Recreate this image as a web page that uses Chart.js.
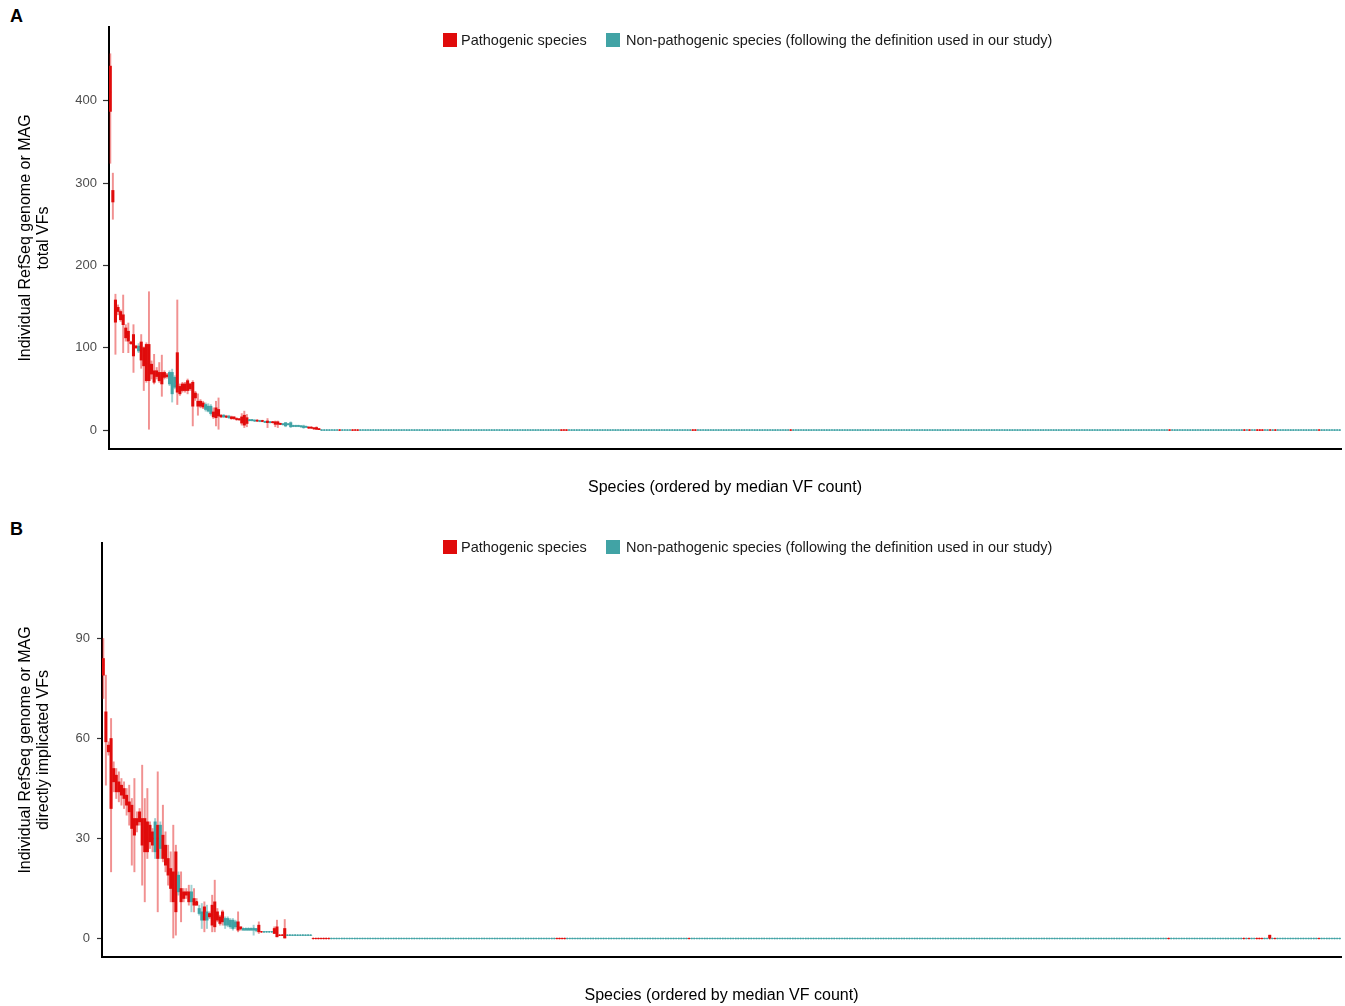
<!DOCTYPE html>
<html>
<head>
<meta charset="utf-8">
<script src="https://cdn.jsdelivr.net/npm/chart.js@4.4.1/dist/chart.umd.min.js"></script>
<style>
  html, body { margin: 0; padding: 0; background: #fff; }
  body { width: 1345px; height: 1006px; position: relative; overflow: hidden;
         font-family: "Liberation Sans", Arial, sans-serif; }
  canvas { position: absolute; left: 0; }
  .tag { position: absolute; left: 10px; font-weight: bold; font-size: 18px; line-height: 18px; color: #000; }
  .sw { position: absolute; width: 14px; height: 14px; }
  .lt { position: absolute; font-size: 14.5px; line-height: 16px; color: #1a1a1a; white-space: nowrap; }
</style>
</head>
<body>
<div class="tag" style="top:7px">A</div>
<div class="tag" style="top:520px">B</div>

<canvas id="chartA" width="1345" height="505" style="top:0px"></canvas>
<canvas id="chartB" width="1345" height="501" style="top:505px"></canvas>

<div class="sw" style="left:443px; top:33px; background:#e00b0b"></div>
<div class="lt" style="left:461px; top:32px">Pathogenic species</div>
<div class="sw" style="left:606px; top:33px; background:#41a3a5"></div>
<div class="lt" style="left:626px; top:32px">Non-pathogenic species (following the definition used in our study)</div>

<div class="sw" style="left:443px; top:540px; background:#e00b0b"></div>
<div class="lt" style="left:461px; top:539px">Pathogenic species</div>
<div class="sw" style="left:606px; top:540px; background:#41a3a5"></div>
<div class="lt" style="left:626px; top:539px">Non-pathogenic species (following the definition used in our study)</div>

<script>
// ---------- data ----------
// Each row: [class, min, q1, median, q3, max]; P = pathogenic, N = non-pathogenic.
// Species are ordered by median VF count; every species after the listed rows
// has zero VFs in all of its genomes.

const speciesCountA = 478;
const boxesA = [
  ['P',324,387,410,442,457], ['P',256,277,284,291,312], ['P',92,131,146,158,165],
  ['P',140,144,147,149,152], ['P',132,134,140,144,146], ['P',94,128,134,140,164],
  ['P',108,112,118,124,128], ['P',94,108,114,120,130], ['P',104,105,106,107,108],
  ['P',70,90,104,116,128],   ['P',99,100,101,102,103],  ['N',94,96,99,102,105],
  ['P',75,85,96,107,116],    ['P',48,78,90,100,101],    ['P',58,60,82,104,106],
  ['P',1,60,78,104,168],     ['P',62,68,74,80,84],      ['P',56,58,68,72,92],
  ['P',62,65,68,72,76],      ['P',58,60,66,70,82],      ['P',41,56,62,70,91],
  ['P',62,64,66,70,72],      ['P',63,65,66,67,69],      ['N',54,56,62,70,72],
  ['N',34,44,56,70,74],      ['N',50,52,56,64,66],      ['P',31,46,58,94,158],
  ['P',42,44,50,53,56],      ['P',46,48,52,56,58],      ['P',46,48,52,56,58],
  ['P',44,48,54,60,62],      ['P',48,50,52,56,57],      ['P',5,29,40,58,60],
  ['P',36,39,42,45,47],      ['P',18,29,32,35,44],      ['P',27,29,32,35,37],
  ['P',26,28,31,33,35],      ['N',23,25,28,31,33],      ['N',22,23,26,29,32],
  ['N',18,20,24,29,31],      ['P',14,16,19,22,27],      ['P',5,15,20,27,35],
  ['P',1,17,19,25,39],       ['P',15,16,17,18,19],      ['N',15,16,17,18,19],
  ['P',15,16,16,17,18],      ['N',14,15,16,17,18],      ['P',13,14,15,16,17],
  ['P',13,14,15,16,16],      ['P',12,13,13,14,15],      ['P',12,12.5,13,13.5,14],
  ['P',6,8.5,12,16,20],      ['P',3,6,12,18,23],        ['P',4,8,11,15,19],
  ['N',11,11.5,12,12.5,13],  ['N',11,11.5,12,12.5,13],  ['N',10.5,11,11.5,12,12.5],
  ['P',10.5,11,11.5,12,12.5],['N',10,10.5,11,11.5,12],  ['P',10,10.5,11,11.5,12],
  ['N',9,9.5,10,10.5,11],    ['P',3,9,10,11,14],        ['N',8.5,9,9.5,10,10.5],
  ['P',8.5,9,9.5,10,10.5],   ['P',4,7,8.5,10,11],       ['P',3,7,8.5,10,11],
  ['P',6.5,7,7.5,8,8.5],     ['N',6,6.5,7,7.5,8],       ['N',4,5,7,9,9],
  ['N',6,6.5,7,7.5,8],       ['N',3,4,7,9,10],          ['N',4,4.5,5,5.5,6],
  ['N',4,4.5,5,5.5,6],       ['N',4,4.5,5,5.5,6],       ['N',3.5,4,4.5,5,5.5],
  ['N',2,3,4,5,6],           ['N',3,3.5,4,4.5,5],       ['P',2,2.5,3,3.5,4],
  ['P',2,2.5,3,3.5,4],       ['P',1,1.5,2,2.5,3],       ['P',0,1,2,3,4],
  ['P',0,0.5,1,1.5,2]
];
// positions (0-based) of pathogenic species among the zero-VF tail
const zeroPathogenicA = [89, 94, 95, 96, 175, 176, 177, 226, 227, 264, 411, 440, 442, 445, 446, 447, 450, 452, 469];
// isolated non-zero species inside the tail: [position, class, min, q1, median, q3, max]
const tailBoxesA = [];

const speciesCountB = 478;
const boxesB = [
  ['P',72,79,82,84,90],      ['P',46,59,62,68,79],      ['P',55,56,57,58,59],
  ['P',20,39,50,60,66],      ['P',44,47,49,51,53],      ['P',42,44,46.5,49,51],
  ['P',41,44,45,47,50],      ['P',40,43,44.5,46,48],    ['P',39,42,43,45,47],
  ['P',37,40,42,43,45],      ['P',34,38,39.5,41,46],    ['P',22,33,37,40,42],
  ['P',20,31,34,36,48],      ['P',32,34,35,36,38],      ['P',34,35,36.5,38,39],
  ['P',16,28,33,36,52],      ['P',11,26,32,36,42],      ['P',24,26,30,35,45],
  ['P',27,29,31,34,35],      ['P',26,28,30,32,33],      ['N',24,26,30,35,36],
  ['P',8,24,30,34,50],       ['N',24,27,30,34,35],      ['P',23,24,27,31,40],
  ['P',20,22,25,28,32],      ['P',16,19,21,24,28],      ['P',11,15,18,21,26],
  ['P',0,11,16,20,34],       ['P',1,8,14,26,28],        ['N',13,14,17,19,20],
  ['P',5,11,13,15,20],       ['P',11,12,13.5,14,15],    ['P',12,13,13.5,14,15],
  ['P',10,11,12.5,14,16],    ['N',8,11,12,14,16],       ['P',8,10,11,12,15],
  ['P',10,10,11,11,12],      ['N',7,7.5,8,9,10],        ['N',3,5.5,7,8,10.5],
  ['P',2,5.5,8,9.5,11],      ['N',3,5.5,7,8,10],        ['P',6,6.5,7,7.5,8],
  ['P',2,4,7,10,13],         ['P',2,3.5,7,11,17.5],     ['P',5,5.5,6.5,8,9],
  ['P',4,4.5,5.5,6.5,7],     ['P',4,5,6.5,8,8.5],       ['N',3,4,5,6,6.5],
  ['N',3.5,4,5,6,6.5],       ['N',3,3.5,4.5,5.5,6],     ['N',2.5,3,4,5.5,6],
  ['N',3,3.5,4,5,5.5],       ['P',2,2.5,3.5,5,8],       ['P',2.5,3,3,3.5,3.5],
  ['N',2.5,2.5,3,3,3],       ['N',2.5,2.5,3,3,3],       ['N',2.5,2.5,3,3,3],
  ['N',2.5,2.5,3,3,3],       ['N',1,2.5,3,3,4],         ['N',2,2.5,2.5,3,3],
  ['P',1.5,2,3,4,5],         ['P',2,2,2,2,2],           ['N',2,2,2,2,2],
  ['N',2,2,2,2,2],           ['N',2,2,2,2,2],           ['N',2,2,2,2,2],
  ['P',1.5,1.5,2,3,3.5],     ['P',0.5,0.5,2,3.5,5.5],   ['P',1,1,1,1,1],
  ['P',1,1,1,1,1],           ['P',0,0,1,3,5.7],         ['N',1,1,1,1,1],
  ['N',1,1,1,1,1],           ['N',1,1,1,1,1],           ['N',1,1,1,1,1],
  ['N',1,1,1,1,1],           ['N',1,1,1,1,1],           ['N',1,1,1,1,1],
  ['N',1,1,1,1,1],           ['N',1,1,1,1,1],           ['N',1,1,1,1,1]
];
const zeroPathogenicB = [81, 82, 83, 84, 85, 86, 87, 175, 176, 177, 178, 226, 411, 440, 442, 445, 446, 447, 452, 469];
const tailBoxesB = [[450, 'P', 0, 0, 0, 1, 1]];

const ticksA = [0, 100, 200, 300, 400];
const ticksB = [0, 30, 60, 90];

// ---------- drawing ----------
const FONT = '"Liberation Sans", Arial, sans-serif';
const RED = '#e00b0b', TEAL = '#41a3a5';
const RED_W = 'rgba(224,11,11,0.45)', TEAL_W = 'rgba(65,163,165,0.5)';

function speciesRows(count, boxes, zeroPath, tailBoxes) {
  const rows = [];
  for (let i = 0; i < count; i++) {
    if (i < boxes.length) { rows.push(boxes[i]); continue; }
    const special = tailBoxes.find(t => t[0] === i);
    if (special) { rows.push(special.slice(1)); continue; }
    rows.push([zeroPath.includes(i) ? 'P' : 'N', 0, 0, 0, 0, 0]);
  }
  return rows;
}

function drawPanel(canvasId, rows, cfg) {
  const labels = rows.map((r, i) => 'species ' + (i + 1));
  const whisk = rows.map(r => [r[1], r[5]]);
  const box = rows.map(r => [r[2], r[4]]);
  const med = rows.map(r => r[3]);
  const solid = rows.map(r => r[0] === 'P' ? RED : TEAL);
  const light = rows.map(r => r[0] === 'P' ? RED_W : TEAL_W);

  new Chart(document.getElementById(canvasId), {
    type: 'bar',
    data: {
      labels,
      datasets: [
        { type: 'bar', data: whisk, backgroundColor: light, barThickness: 1.3, grouped: false, order: 3 },
        { type: 'bar', data: box, backgroundColor: solid, barThickness: 2.4, grouped: false, order: 2 },
        { type: 'line', data: med, showLine: false, pointStyle: 'rect', pointRadius: 1.15,
          pointBorderWidth: 0, pointBackgroundColor: solid, order: 1 }
      ]
    },
    options: {
      responsive: false, animation: false, devicePixelRatio: 1,
      layout: { padding: { top: cfg.padTop, right: 4, left: 0, bottom: 0 } },
      plugins: { legend: { display: false }, tooltip: { enabled: false } },
      scales: {
        x: {
          type: 'category', offset: true,
          grid: { display: false },
          ticks: { display: false },
          border: { display: true, color: '#000', width: 2 },
          title: { display: true, text: 'Species (ordered by median VF count)', color: '#000',
                   font: { family: FONT, size: 16, lineHeight: 1.2 }, padding: { top: 0, bottom: cfg.xTitlePad } },
          afterFit: s => { s.height = cfg.xHeight; }
        },
        y: {
          min: cfg.min, max: cfg.max,
          afterBuildTicks: s => { s.ticks = cfg.ticks.map(v => ({ value: v })); },
          ticks: { color: '#4d4d4d', font: { family: FONT, size: 13 }, padding: cfg.tickPad },
          grid: { display: true, drawOnChartArea: false, drawTicks: true, tickLength: cfg.tickLen,
                  tickColor: '#333', tickWidth: 1.2 },
          border: { display: true, color: '#000', width: 2 },
          title: { display: true, text: cfg.yTitle, color: '#000',
                   font: { family: FONT, size: 16, lineHeight: 1.15 }, padding: { top: 16, bottom: 0 } },
          afterFit: s => { s.width = cfg.yWidth; }
        }
      }
    }
  });
}

drawPanel('chartA', speciesRows(speciesCountA, boxesA, zeroPathogenicA, tailBoxesA), {
  padTop: 27, xHeight: 56, xTitlePad: 8, yWidth: 109, tickLen: 6, tickPad: 6,
  min: -23, max: 489.5, ticks: ticksA,
  yTitle: ['Individual RefSeq genome or MAG', 'total VFs']
});

drawPanel('chartB', speciesRows(speciesCountB, boxesB, zeroPathogenicB, tailBoxesB), {
  padTop: 38, xHeight: 49, xTitlePad: 0.5, yWidth: 102, tickLen: 5, tickPad: 7,
  min: -5.55, max: 118.65, ticks: ticksB,
  yTitle: ['Individual RefSeq genome or MAG', 'directly implicated VFs']
});
</script>
</body>
</html>
